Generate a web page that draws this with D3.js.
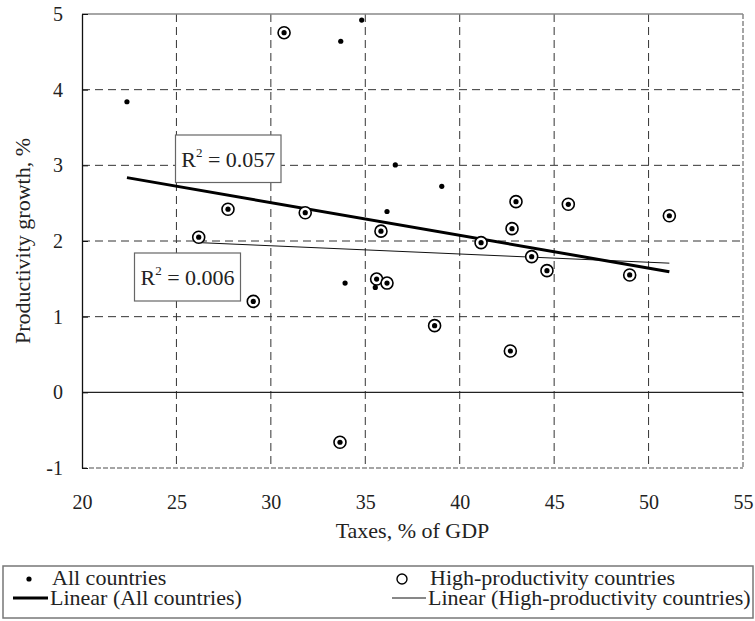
<!DOCTYPE html>
<html>
<head>
<meta charset="utf-8">
<script src="https://cdn.jsdelivr.net/npm/d3@7"></script>
<style>
  html, body { margin: 0; padding: 0; background: #fff; }
  svg { display: block; }
  text { font-family: "Liberation Serif", "Times New Roman", serif !important; fill: #222; }
</style>
</head>
<body>
<svg id="chart" width="755" height="621"></svg>
<script>
// ---- data ----
const otherTaxes = [22.38, 33.70, 34.81, 36.59, 36.15, 39.05, 33.93, 35.53];
const otherGrowth = [3.84, 4.64, 4.92, 3.005, 2.39, 2.723, 1.444, 1.386];

const highTaxes = [30.70, 27.73, 31.82, 35.83, 26.18, 42.98, 45.75, 51.10, 42.77, 41.13,
                   43.81, 44.62, 49.00, 38.67, 42.68, 29.07, 35.60, 36.15, 33.66];
const highGrowth = [4.753, 2.42, 2.374, 2.13, 2.05, 2.52, 2.485, 2.334, 2.163, 1.978,
                    1.793, 1.608, 1.551, 0.881, 0.546, 1.202, 1.497, 1.444, -0.66];

const xTicks = [20, 25, 30, 35, 40, 45, 50, 55];
const yTicks = [-1, 0, 1, 2, 3, 4, 5];
const r2Labels = ["0.057", "0.006"];
const legendLabels = ["All countries", "High-productivity countries",
                      "Linear (All countries)", "Linear (High-productivity countries)"];
const xTitle = "Taxes, % of GDP";
const yTitle = "Productivity growth, %";

(function () {
const FONT = "'Liberation Serif', 'Times New Roman', serif";
const svg = d3.select("#chart");
const pL = 82, pR = 743, pT = 14, pB = 468;
const x = d3.scaleLinear().domain([20, 55]).range([pL, pR]);
const y = d3.scaleLinear().domain([-1, 5]).range([pB, pT]);

const allTaxes = otherTaxes.concat(highTaxes);
const allGrowth = otherGrowth.concat(highGrowth);

function fit(xs, ys) {
  const n = xs.length;
  const mx = d3.mean(xs), my = d3.mean(ys);
  let sxy = 0, sxx = 0;
  for (let i = 0; i < n; i++) { sxy += (xs[i]-mx)*(ys[i]-my); sxx += (xs[i]-mx)**2; }
  const b = sxy / sxx, a = my - b * mx;
  const x0 = d3.min(xs), x1 = d3.max(xs);
  return [[x0, a + b*x0], [x1, a + b*x1]];
}

// gridlines
const grid = svg.append("g");
grid.selectAll("line.v").data(xTicks.filter(t => t > 20 && t < 55)).enter().append("line")
  .attr("x1", d => x(d)).attr("x2", d => x(d)).attr("y1", pT).attr("y2", pB)
  .attr("stroke", "#333").attr("stroke-width", 1).attr("stroke-dasharray", "8,5");
grid.selectAll("line.h").data(yTicks.filter(t => t > -1 && t < 5 && t !== 0)).enter().append("line")
  .attr("x1", pL).attr("x2", pR).attr("y1", d => y(d)).attr("y2", d => y(d))
  .attr("stroke", "#333").attr("stroke-width", 1).attr("stroke-dasharray", "8,5");

// frame
svg.append("line").attr("x1", pL).attr("x2", pR).attr("y1", pT).attr("y2", pT)
  .attr("stroke", "#888").attr("stroke-width", 1.5);
svg.append("line").attr("x1", pR).attr("x2", pR).attr("y1", pT).attr("y2", pB)
  .attr("stroke", "#888").attr("stroke-width", 1.5).attr("stroke-dasharray", "5,2");
svg.append("line").attr("x1", pL).attr("x2", pR).attr("y1", pB).attr("y2", pB)
  .attr("stroke", "#888").attr("stroke-width", 1.5).attr("stroke-dasharray", "5,2");
// zero line
svg.append("line").attr("x1", pL).attr("x2", pR).attr("y1", y(0)).attr("y2", y(0))
  .attr("stroke", "#222").attr("stroke-width", 1.2);

// y axis
const yAxis = d3.axisLeft(y).tickValues(yTicks).tickSize(0).tickPadding(19).tickFormat(d => String(d));
const gy = svg.append("g").attr("transform", `translate(${pL},0)`).call(yAxis);
gy.attr("font-family", null);
gy.select(".domain").attr("stroke", "#111").attr("stroke-width", 1.3);
gy.selectAll("text").attr("font-size", 20).style("font-family", FONT).attr("fill", "#222");
gy.selectAll(".tick").append("line").attr("x1", 0).attr("x2", 6).attr("stroke", "#111");

// x axis labels
const xAxis = d3.axisBottom(x).tickValues(xTicks).tickSize(0).tickPadding(27).tickFormat(d => String(d));
const gx = svg.append("g").attr("transform", `translate(0,${pB})`).call(xAxis);
gx.attr("font-family", null);
gx.select(".domain").remove();
gx.selectAll("text").attr("font-size", 20).style("font-family", FONT).attr("fill", "#222");

// titles
svg.append("text").attr("x", (pL + pR) / 2).attr("y", 538).attr("text-anchor", "middle")
  .attr("font-size", 22).text(xTitle);
svg.append("text").attr("transform", `translate(30,${(pT + pB) / 2}) rotate(-90)`)
  .attr("text-anchor", "middle").attr("font-size", 22).text(yTitle);

// trend lines
const lineAll = fit(allTaxes, allGrowth);
const lineHigh = fit(highTaxes, highGrowth);
const lg = d3.line().x(d => x(d[0])).y(d => y(d[1]));
svg.append("path").attr("d", lg(lineHigh)).attr("stroke", "#111").attr("stroke-width", 1).attr("fill", "none");
svg.append("path").attr("d", lg(lineAll)).attr("stroke", "#000").attr("stroke-width", 3).attr("fill", "none");

// points
svg.append("g").selectAll("circle").data(highTaxes.map((t, i) => [t, highGrowth[i]])).enter()
  .append("circle").attr("cx", d => x(d[0])).attr("cy", d => y(d[1])).attr("r", 6)
  .attr("fill", "#fff").attr("stroke", "#000").attr("stroke-width", 1.6);
svg.append("g").selectAll("circle").data(allTaxes.map((t, i) => [t, allGrowth[i]])).enter()
  .append("circle").attr("cx", d => x(d[0])).attr("cy", d => y(d[1])).attr("r", 2.6)
  .attr("fill", "#000");

// R² boxes
function r2Box(x0, y0, w, h, val) {
  const g = svg.append("g");
  g.append("rect").attr("x", x0).attr("y", y0).attr("width", w).attr("height", h)
    .attr("fill", "#fff").attr("stroke", "#666").attr("stroke-width", 1.2);
  const t = g.append("text").attr("x", x0 + w / 2).attr("y", y0 + h / 2 + 8)
    .attr("text-anchor", "middle").attr("font-size", 22);
  t.append("tspan").text("R");
  t.append("tspan").attr("font-size", 13).attr("dy", -10).text("2");
  t.append("tspan").attr("dy", 10).text(" = " + val);
}
r2Box(175.5, 135, 105.5, 47.5, r2Labels[0]);
r2Box(134.5, 253, 106, 48, r2Labels[1]);

// legend
const leg = svg.append("g");
leg.append("rect").attr("x", 3).attr("y", 566).attr("width", 750).attr("height", 52)
  .attr("fill", "#fff").attr("stroke", "#777").attr("stroke-width", 1.5);
const r1 = 579, r2 = 598;
leg.append("circle").attr("cx", 29).attr("cy", r1).attr("r", 2.6).attr("fill", "#000");
leg.append("text").attr("x", 52).attr("y", r1 + 6).attr("font-size", 22).text(legendLabels[0]);
leg.append("circle").attr("cx", 402).attr("cy", r1).attr("r", 5).attr("fill", "none")
  .attr("stroke", "#000").attr("stroke-width", 1.4);
leg.append("text").attr("x", 430).attr("y", r1 + 6).attr("font-size", 22).text(legendLabels[1]);
leg.append("line").attr("x1", 13).attr("x2", 48).attr("y1", r2).attr("y2", r2)
  .attr("stroke", "#000").attr("stroke-width", 3);
leg.append("text").attr("x", 50).attr("y", r2 + 7).attr("font-size", 22).text(legendLabels[2]);
leg.append("line").attr("x1", 392).attr("x2", 426).attr("y1", r2).attr("y2", r2)
  .attr("stroke", "#111").attr("stroke-width", 1);
leg.append("text").attr("x", 428).attr("y", r2 + 7).attr("font-size", 22).text(legendLabels[3]);
})();
</script>
</body>
</html>
